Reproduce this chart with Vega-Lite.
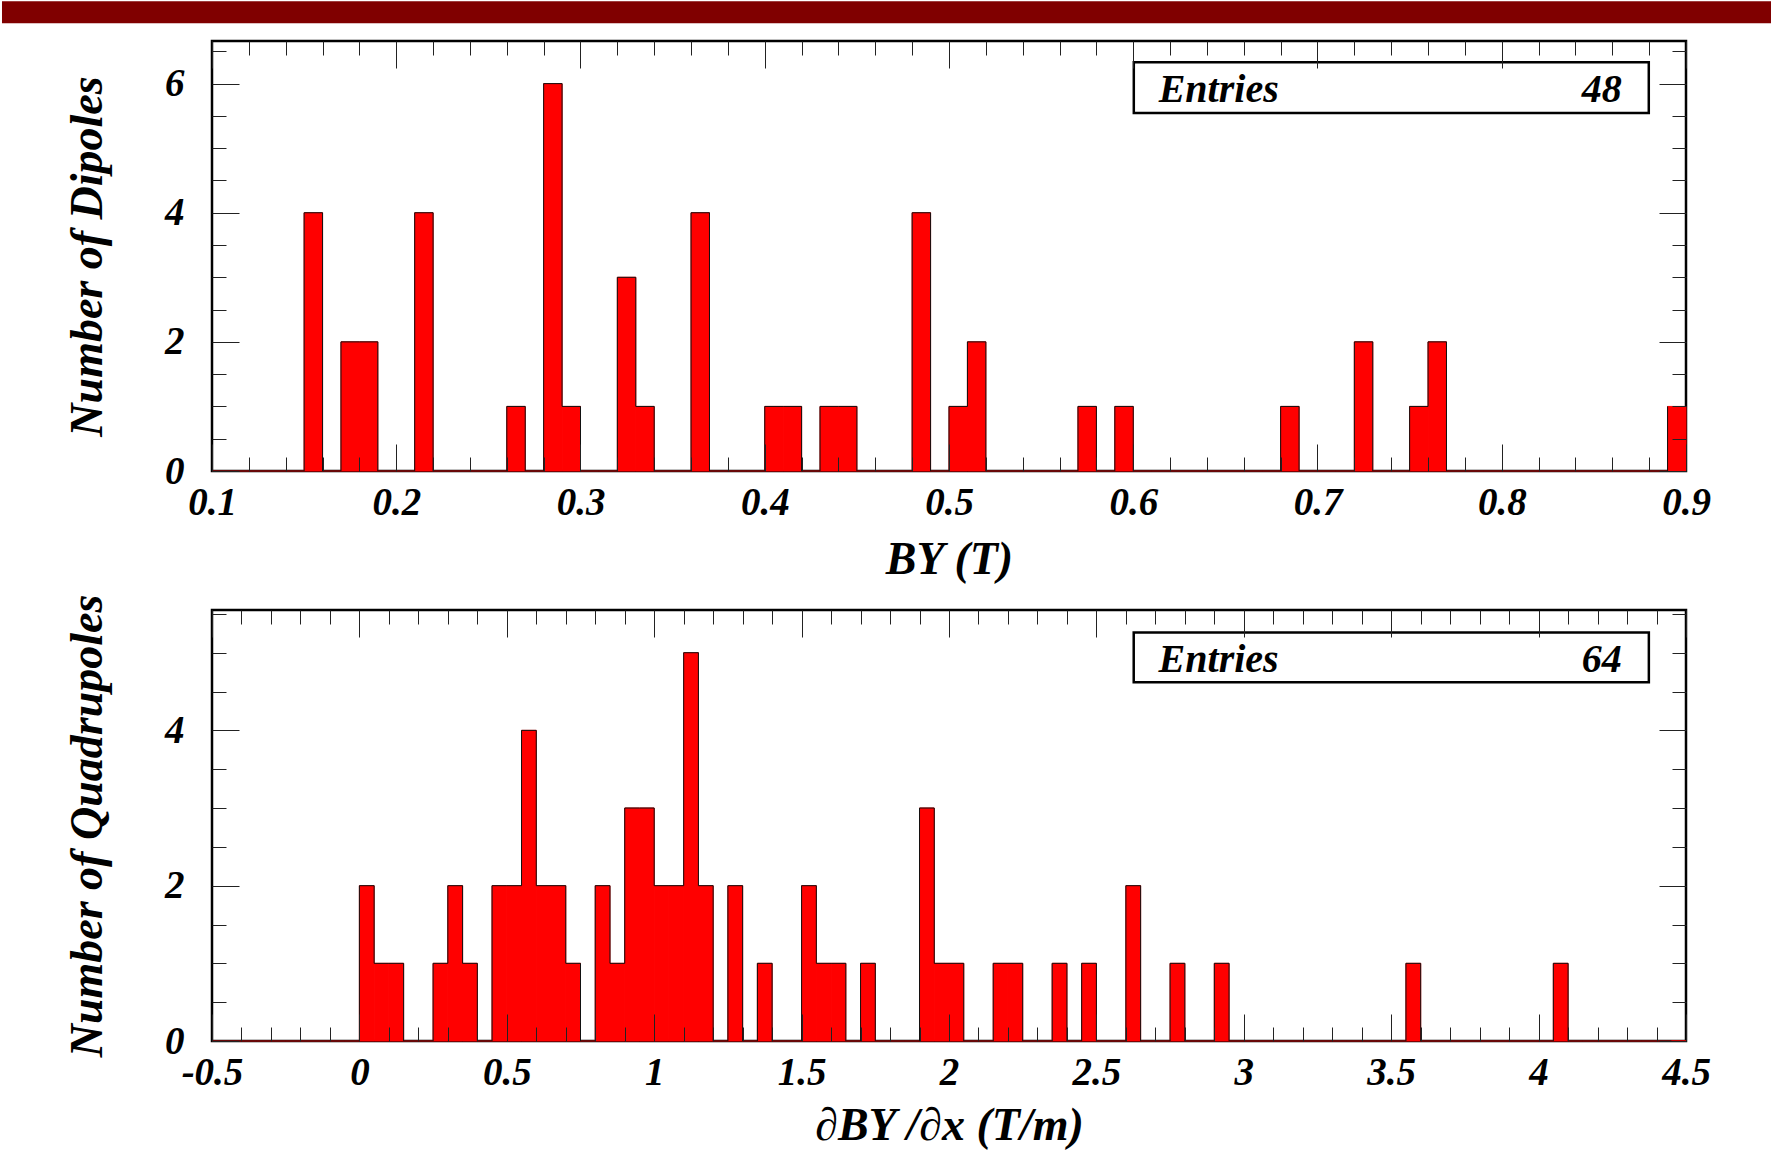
{
  "background": "white",
  "padding": 0,
  "autosize": {"type": "pad"},
  "spacing": 0,
  "datasets": {
    "dip": [
      {"lo":0.1,"hi":0.11,"n":0},{"lo":0.11,"hi":0.12,"n":0},{"lo":0.12,"hi":0.13,"n":0},{"lo":0.13,"hi":0.14,"n":0},{"lo":0.14,"hi":0.15,"n":0},
      {"lo":0.15,"hi":0.16,"n":4},{"lo":0.16,"hi":0.17,"n":0},{"lo":0.17,"hi":0.18,"n":2},{"lo":0.18,"hi":0.19,"n":2},{"lo":0.19,"hi":0.2,"n":0},
      {"lo":0.2,"hi":0.21,"n":0},{"lo":0.21,"hi":0.22,"n":4},{"lo":0.22,"hi":0.23,"n":0},{"lo":0.23,"hi":0.24,"n":0},{"lo":0.24,"hi":0.25,"n":0},
      {"lo":0.25,"hi":0.26,"n":0},{"lo":0.26,"hi":0.27,"n":1},{"lo":0.27,"hi":0.28,"n":0},{"lo":0.28,"hi":0.29,"n":6},{"lo":0.29,"hi":0.3,"n":1},
      {"lo":0.3,"hi":0.31,"n":0},{"lo":0.31,"hi":0.32,"n":0},{"lo":0.32,"hi":0.33,"n":3},{"lo":0.33,"hi":0.34,"n":1},{"lo":0.34,"hi":0.35,"n":0},
      {"lo":0.35,"hi":0.36,"n":0},{"lo":0.36,"hi":0.37,"n":4},{"lo":0.37,"hi":0.38,"n":0},{"lo":0.38,"hi":0.39,"n":0},{"lo":0.39,"hi":0.4,"n":0},
      {"lo":0.4,"hi":0.41,"n":1},{"lo":0.41,"hi":0.42,"n":1},{"lo":0.42,"hi":0.43,"n":0},{"lo":0.43,"hi":0.44,"n":1},{"lo":0.44,"hi":0.45,"n":1},
      {"lo":0.45,"hi":0.46,"n":0},{"lo":0.46,"hi":0.47,"n":0},{"lo":0.47,"hi":0.48,"n":0},{"lo":0.48,"hi":0.49,"n":4},{"lo":0.49,"hi":0.5,"n":0},
      {"lo":0.5,"hi":0.51,"n":1},{"lo":0.51,"hi":0.52,"n":2},{"lo":0.52,"hi":0.53,"n":0},{"lo":0.53,"hi":0.54,"n":0},{"lo":0.54,"hi":0.55,"n":0},
      {"lo":0.55,"hi":0.56,"n":0},{"lo":0.56,"hi":0.57,"n":0},{"lo":0.57,"hi":0.58,"n":1},{"lo":0.58,"hi":0.59,"n":0},{"lo":0.59,"hi":0.6,"n":1},
      {"lo":0.6,"hi":0.61,"n":0},{"lo":0.61,"hi":0.62,"n":0},{"lo":0.62,"hi":0.63,"n":0},{"lo":0.63,"hi":0.64,"n":0},{"lo":0.64,"hi":0.65,"n":0},
      {"lo":0.65,"hi":0.66,"n":0},{"lo":0.66,"hi":0.67,"n":0},{"lo":0.67,"hi":0.68,"n":0},{"lo":0.68,"hi":0.69,"n":1},{"lo":0.69,"hi":0.7,"n":0},
      {"lo":0.7,"hi":0.71,"n":0},{"lo":0.71,"hi":0.72,"n":0},{"lo":0.72,"hi":0.73,"n":2},{"lo":0.73,"hi":0.74,"n":0},{"lo":0.74,"hi":0.75,"n":0},
      {"lo":0.75,"hi":0.76,"n":1},{"lo":0.76,"hi":0.77,"n":2},{"lo":0.77,"hi":0.78,"n":0},{"lo":0.78,"hi":0.79,"n":0},{"lo":0.79,"hi":0.8,"n":0},
      {"lo":0.8,"hi":0.81,"n":0},{"lo":0.81,"hi":0.82,"n":0},{"lo":0.82,"hi":0.83,"n":0},{"lo":0.83,"hi":0.84,"n":0},{"lo":0.84,"hi":0.85,"n":0},
      {"lo":0.85,"hi":0.86,"n":0},{"lo":0.86,"hi":0.87,"n":0},{"lo":0.87,"hi":0.88,"n":0},{"lo":0.88,"hi":0.89,"n":0},{"lo":0.89,"hi":0.9,"n":1}
    ],
    "quad": [
      {"lo":-0.5,"hi":-0.45,"n":0},{"lo":-0.45,"hi":-0.4,"n":0},{"lo":-0.4,"hi":-0.35,"n":0},{"lo":-0.35,"hi":-0.3,"n":0},{"lo":-0.3,"hi":-0.25,"n":0},
      {"lo":-0.25,"hi":-0.2,"n":0},{"lo":-0.2,"hi":-0.15,"n":0},{"lo":-0.15,"hi":-0.1,"n":0},{"lo":-0.1,"hi":-0.05,"n":0},{"lo":-0.05,"hi":0,"n":0},
      {"lo":0,"hi":0.05,"n":2},{"lo":0.05,"hi":0.1,"n":1},{"lo":0.1,"hi":0.15,"n":1},{"lo":0.15,"hi":0.2,"n":0},{"lo":0.2,"hi":0.25,"n":0},
      {"lo":0.25,"hi":0.3,"n":1},{"lo":0.3,"hi":0.35,"n":2},{"lo":0.35,"hi":0.4,"n":1},{"lo":0.4,"hi":0.45,"n":0},{"lo":0.45,"hi":0.5,"n":2},
      {"lo":0.5,"hi":0.55,"n":2},{"lo":0.55,"hi":0.6,"n":4},{"lo":0.6,"hi":0.65,"n":2},{"lo":0.65,"hi":0.7,"n":2},{"lo":0.7,"hi":0.75,"n":1},
      {"lo":0.75,"hi":0.8,"n":0},{"lo":0.8,"hi":0.85,"n":2},{"lo":0.85,"hi":0.9,"n":1},{"lo":0.9,"hi":0.95,"n":3},{"lo":0.95,"hi":1,"n":3},
      {"lo":1,"hi":1.05,"n":2},{"lo":1.05,"hi":1.1,"n":2},{"lo":1.1,"hi":1.15,"n":5},{"lo":1.15,"hi":1.2,"n":2},{"lo":1.2,"hi":1.25,"n":0},
      {"lo":1.25,"hi":1.3,"n":2},{"lo":1.3,"hi":1.35,"n":0},{"lo":1.35,"hi":1.4,"n":1},{"lo":1.4,"hi":1.45,"n":0},{"lo":1.45,"hi":1.5,"n":0},
      {"lo":1.5,"hi":1.55,"n":2},{"lo":1.55,"hi":1.6,"n":1},{"lo":1.6,"hi":1.65,"n":1},{"lo":1.65,"hi":1.7,"n":0},{"lo":1.7,"hi":1.75,"n":1},
      {"lo":1.75,"hi":1.8,"n":0},{"lo":1.8,"hi":1.85,"n":0},{"lo":1.85,"hi":1.9,"n":0},{"lo":1.9,"hi":1.95,"n":3},{"lo":1.95,"hi":2,"n":1},
      {"lo":2,"hi":2.05,"n":1},{"lo":2.05,"hi":2.1,"n":0},{"lo":2.1,"hi":2.15,"n":0},{"lo":2.15,"hi":2.2,"n":1},{"lo":2.2,"hi":2.25,"n":1},
      {"lo":2.25,"hi":2.3,"n":0},{"lo":2.3,"hi":2.35,"n":0},{"lo":2.35,"hi":2.4,"n":1},{"lo":2.4,"hi":2.45,"n":0},{"lo":2.45,"hi":2.5,"n":1},
      {"lo":2.5,"hi":2.55,"n":0},{"lo":2.55,"hi":2.6,"n":0},{"lo":2.6,"hi":2.65,"n":2},{"lo":2.65,"hi":2.7,"n":0},{"lo":2.7,"hi":2.75,"n":0},
      {"lo":2.75,"hi":2.8,"n":1},{"lo":2.8,"hi":2.85,"n":0},{"lo":2.85,"hi":2.9,"n":0},{"lo":2.9,"hi":2.95,"n":1},{"lo":2.95,"hi":3,"n":0},
      {"lo":3,"hi":3.05,"n":0},{"lo":3.05,"hi":3.1,"n":0},{"lo":3.1,"hi":3.15,"n":0},{"lo":3.15,"hi":3.2,"n":0},{"lo":3.2,"hi":3.25,"n":0},
      {"lo":3.25,"hi":3.3,"n":0},{"lo":3.3,"hi":3.35,"n":0},{"lo":3.35,"hi":3.4,"n":0},{"lo":3.4,"hi":3.45,"n":0},{"lo":3.45,"hi":3.5,"n":0},
      {"lo":3.5,"hi":3.55,"n":0},{"lo":3.55,"hi":3.6,"n":1},{"lo":3.6,"hi":3.65,"n":0},{"lo":3.65,"hi":3.7,"n":0},{"lo":3.7,"hi":3.75,"n":0},
      {"lo":3.75,"hi":3.8,"n":0},{"lo":3.8,"hi":3.85,"n":0},{"lo":3.85,"hi":3.9,"n":0},{"lo":3.9,"hi":3.95,"n":0},{"lo":3.95,"hi":4,"n":0},
      {"lo":4,"hi":4.05,"n":0},{"lo":4.05,"hi":4.1,"n":1},{"lo":4.1,"hi":4.15,"n":0},{"lo":4.15,"hi":4.2,"n":0},{"lo":4.2,"hi":4.25,"n":0},
      {"lo":4.25,"hi":4.3,"n":0},{"lo":4.3,"hi":4.35,"n":0},{"lo":4.35,"hi":4.4,"n":0},{"lo":4.4,"hi":4.45,"n":0},{"lo":4.45,"hi":4.5,"n":0}
    ],
    "dipstats": [{"label": "Entries", "entries": 48}],
    "quadstats": [{"label": "Entries", "entries": 64}]
  },
  "config": {
    "font": "Liberation Serif",
    "view": {"stroke": "black", "strokeWidth": 2.5},
    "axis": {
      "grid": false, "domain": false, "labelFlush": false, "labelOverlap": false, "labelBound": false,
      "labelFont": "Liberation Serif", "labelFontSize": 39, "labelFontWeight": "bold", "labelFontStyle": "italic", "labelColor": "black",
      "titleFont": "Liberation Serif", "titleFontSize": 46, "titleFontWeight": "bold", "titleFontStyle": "italic", "titleColor": "black",
      "tickColor": "#222", "tickWidth": 1
    }
  },
  "vconcat": [
    {
      "width": 1474, "height": 430,
      "resolve": {"axis": {"x": "independent", "y": "independent"}},
      "layer": [
        {
          "data": {"name": "dipstats"},
          "mark": {"type": "rect", "color": "#800000", "strokeWidth": 0, "clip": false},
          "encoding": {
            "x": {"datum": -0.01398, "type": "quantitative", "scale": {"domain": [0.1, 0.9], "nice": false, "zero": false}, "axis": null},
            "x2": {"datum": 0.94722},
            "y": {"datum": 6.9341, "type": "quantitative", "scale": {"domain": [0, 6.66], "nice": false, "zero": true}, "axis": null},
            "y2": {"datum": 7.2749}
          }
        },
        {
          "data": {"name": "dip"},
          "mark": {"type": "rect", "color": "#ff0000", "stroke": "#ff0000", "strokeWidth": 1},
          "encoding": {
            "x": {"field": "lo", "type": "quantitative", "scale": {"domain": [0.1, 0.9], "nice": false, "zero": false},
              "axis": {"orient": "bottom", "values": [0.1,0.2,0.3,0.4,0.5,0.6,0.7,0.8,0.9], "ticks": false, "labelPadding": 12,
                "labelExpr": "toString(datum.value)", "title": "BY (T)", "titlePadding": 15}},
            "x2": {"field": "hi"},
            "y": {"field": "n", "type": "quantitative", "scale": {"domain": [0, 6.66], "nice": false, "zero": true},
              "axis": {"orient": "left", "values": [0,2,4,6], "ticks": false, "labelPadding": 28, "labelExpr": "toString(datum.value)",
                "title": "Number of Dipoles", "titlePadding": 53}},
            "y2": {"datum": 0}
          }
        },
        {
          "data": {"name": "dip"},
          "mark": {"type": "line", "interpolate": "step-after", "color": "#111111", "strokeWidth": 1},
          "encoding": {
            "x": {"field": "lo", "type": "quantitative", "scale": {"domain": [0.1, 0.9], "nice": false, "zero": false},
              "axis": {"orient": "bottom", "labels": false, "title": null, "zindex": 1, "minExtent": 118.3,
                "values": [0.1,0.12,0.14,0.16,0.18,0.2,0.22,0.24,0.26,0.28,0.3,0.32,0.34,0.36,0.38,0.4,0.42,0.44,0.46,0.48,0.5,0.52,0.54,0.56,0.58,0.6,0.62,0.64,0.66,0.68,0.7,0.72,0.74,0.76,0.78,0.8,0.82,0.84,0.86,0.88,0.9],
                "tickSize": {"condition": {"test": "abs(datum.value*10 - round(datum.value*10)) < 0.001", "value": -27}, "value": -14}}},
            "y": {"field": "n", "type": "quantitative", "scale": {"domain": [0, 6.66], "nice": false, "zero": true},
              "axis": {"orient": "left", "labels": false, "title": null, "zindex": 1,
                "values": [0,0.5,1,1.5,2,2.5,3,3.5,4,4.5,5,5.5,6,6.5],
                "tickSize": {"condition": {"test": "abs(datum.value/2 - round(datum.value/2)) < 0.001", "value": -27}, "value": -14}}}
          }
        },
        {
          "data": {"name": "dipstats"},
          "mark": {"type": "rect", "fill": "white", "stroke": "black", "strokeWidth": 2.5},
          "encoding": {
            "x": {"datum": 0.6003, "type": "quantitative", "scale": {"domain": [0.1, 0.9], "nice": false, "zero": false},
              "axis": {"orient": "top", "labels": false, "title": null, "zindex": 1,
                "values": [0.1,0.12,0.14,0.16,0.18,0.2,0.22,0.24,0.26,0.28,0.3,0.32,0.34,0.36,0.38,0.4,0.42,0.44,0.46,0.48,0.5,0.52,0.54,0.56,0.58,0.6,0.62,0.64,0.66,0.68,0.7,0.72,0.74,0.76,0.78,0.8,0.82,0.84,0.86,0.88,0.9],
                "tickSize": {"condition": {"test": "abs(datum.value*10 - round(datum.value*10)) < 0.001", "value": -27}, "value": -14}}},
            "x2": {"datum": 0.8798},
            "y": {"datum": 5.544, "type": "quantitative", "scale": {"domain": [0, 6.66], "nice": false, "zero": true},
              "axis": {"orient": "right", "labels": false, "title": null, "zindex": 1,
                "values": [0,0.5,1,1.5,2,2.5,3,3.5,4,4.5,5,5.5,6,6.5],
                "tickSize": {"condition": {"test": "abs(datum.value/2 - round(datum.value/2)) < 0.001", "value": -27}, "value": -14}}},
            "y2": {"datum": 6.33}
          }
        },
        {
          "data": {"name": "dipstats"},
          "mark": {"type": "text", "align": "left", "baseline": "alphabetic", "font": "Liberation Serif", "fontSize": 40, "fontWeight": "bold", "fontStyle": "italic", "color": "black"},
          "encoding": {
            "x": {"datum": 0.6138, "type": "quantitative", "scale": {"domain": [0.1, 0.9], "nice": false, "zero": false}, "axis": null},
            "y": {"datum": 5.715, "type": "quantitative", "scale": {"domain": [0, 6.66], "nice": false, "zero": true}, "axis": null},
            "text": {"field": "label"}
          }
        },
        {
          "data": {"name": "dipstats"},
          "mark": {"type": "text", "align": "right", "baseline": "alphabetic", "font": "Liberation Serif", "fontSize": 40, "fontWeight": "bold", "fontStyle": "italic", "color": "black"},
          "encoding": {
            "x": {"datum": 0.8651, "type": "quantitative", "scale": {"domain": [0.1, 0.9], "nice": false, "zero": false}, "axis": null},
            "y": {"datum": 5.715, "type": "quantitative", "scale": {"domain": [0, 6.66], "nice": false, "zero": true}, "axis": null},
            "text": {"field": "entries"}
          }
        }
      ]
    },
    {
      "width": 1474, "height": 431,
      "resolve": {"axis": {"x": "independent", "y": "independent"}},
      "layer": [
        {
          "data": {"name": "quad"},
          "mark": {"type": "rect", "color": "#ff0000", "stroke": "#ff0000", "strokeWidth": 1},
          "encoding": {
            "x": {"field": "lo", "type": "quantitative", "scale": {"domain": [-0.5, 4.5], "nice": false, "zero": false},
              "axis": {"orient": "bottom", "values": [-0.5,0,0.5,1,1.5,2,2.5,3,3.5,4,4.5], "ticks": false, "labelPadding": 12,
                "labelExpr": "toString(datum.value)", "title": "∂BY /∂x (T/m)", "titlePadding": 11}},
            "x2": {"field": "hi"},
            "y": {"field": "n", "type": "quantitative", "scale": {"domain": [0, 5.55], "nice": false, "zero": true},
              "axis": {"orient": "left", "values": [0,2,4], "ticks": false, "labelPadding": 28, "labelExpr": "toString(datum.value)",
                "title": "Number of Quadrupoles", "titlePadding": 53}},
            "y2": {"datum": 0}
          }
        },
        {
          "data": {"name": "quad"},
          "mark": {"type": "line", "interpolate": "step-after", "color": "#111111", "strokeWidth": 1},
          "encoding": {
            "x": {"field": "lo", "type": "quantitative", "scale": {"domain": [-0.5, 4.5], "nice": false, "zero": false},
              "axis": {"orient": "bottom", "labels": false, "title": null, "zindex": 1,
                "values": [-0.5,-0.4,-0.3,-0.2,-0.1,0,0.1,0.2,0.3,0.4,0.5,0.6,0.7,0.8,0.9,1,1.1,1.2,1.3,1.4,1.5,1.6,1.7,1.8,1.9,2,2.1,2.2,2.3,2.4,2.5,2.6,2.7,2.8,2.9,3,3.1,3.2,3.3,3.4,3.5,3.6,3.7,3.8,3.9,4,4.1,4.2,4.3,4.4,4.5],
                "tickSize": {"condition": {"test": "abs(datum.value*2 - round(datum.value*2)) < 0.001", "value": -27}, "value": -14}}},
            "y": {"field": "n", "type": "quantitative", "scale": {"domain": [0, 5.55], "nice": false, "zero": true},
              "axis": {"orient": "left", "labels": false, "title": null, "zindex": 1, "minExtent": 210,
                "values": [0,0.5,1,1.5,2,2.5,3,3.5,4,4.5,5,5.5],
                "tickSize": {"condition": {"test": "abs(datum.value/2 - round(datum.value/2)) < 0.001", "value": -27}, "value": -14}}}
          }
        },
        {
          "data": {"name": "quadstats"},
          "mark": {"type": "rect", "fill": "white", "stroke": "black", "strokeWidth": 2.5},
          "encoding": {
            "x": {"datum": 2.6266, "type": "quantitative", "scale": {"domain": [-0.5, 4.5], "nice": false, "zero": false},
              "axis": {"orient": "top", "labels": false, "title": null, "zindex": 1, "minExtent": 17,
                "values": [-0.5,-0.4,-0.3,-0.2,-0.1,0,0.1,0.2,0.3,0.4,0.5,0.6,0.7,0.8,0.9,1,1.1,1.2,1.3,1.4,1.5,1.6,1.7,1.8,1.9,2,2.1,2.2,2.3,2.4,2.5,2.6,2.7,2.8,2.9,3,3.1,3.2,3.3,3.4,3.5,3.6,3.7,3.8,3.9,4,4.1,4.2,4.3,4.4,4.5],
                "tickSize": {"condition": {"test": "abs(datum.value*2 - round(datum.value*2)) < 0.001", "value": -27}, "value": -14}}},
            "x2": {"datum": 4.374},
            "y": {"datum": 4.619, "type": "quantitative", "scale": {"domain": [0, 5.55], "nice": false, "zero": true},
              "axis": {"orient": "right", "labels": false, "title": null, "zindex": 1,
                "values": [0,0.5,1,1.5,2,2.5,3,3.5,4,4.5,5,5.5],
                "tickSize": {"condition": {"test": "abs(datum.value/2 - round(datum.value/2)) < 0.001", "value": -27}, "value": -14}}},
            "y2": {"datum": 5.259}
          }
        },
        {
          "data": {"name": "quadstats"},
          "mark": {"type": "text", "align": "left", "baseline": "alphabetic", "font": "Liberation Serif", "fontSize": 40, "fontWeight": "bold", "fontStyle": "italic", "color": "black"},
          "encoding": {
            "x": {"datum": 2.711, "type": "quantitative", "scale": {"domain": [-0.5, 4.5], "nice": false, "zero": false}, "axis": null},
            "y": {"datum": 4.749, "type": "quantitative", "scale": {"domain": [0, 5.55], "nice": false, "zero": true}, "axis": null},
            "text": {"field": "label"}
          }
        },
        {
          "data": {"name": "quadstats"},
          "mark": {"type": "text", "align": "right", "baseline": "alphabetic", "font": "Liberation Serif", "fontSize": 40, "fontWeight": "bold", "fontStyle": "italic", "color": "black"},
          "encoding": {
            "x": {"datum": 4.282, "type": "quantitative", "scale": {"domain": [-0.5, 4.5], "nice": false, "zero": false}, "axis": null},
            "y": {"datum": 4.749, "type": "quantitative", "scale": {"domain": [0, 5.55], "nice": false, "zero": true}, "axis": null},
            "text": {"field": "entries"}
          }
        }
      ]
    }
  ]
}
